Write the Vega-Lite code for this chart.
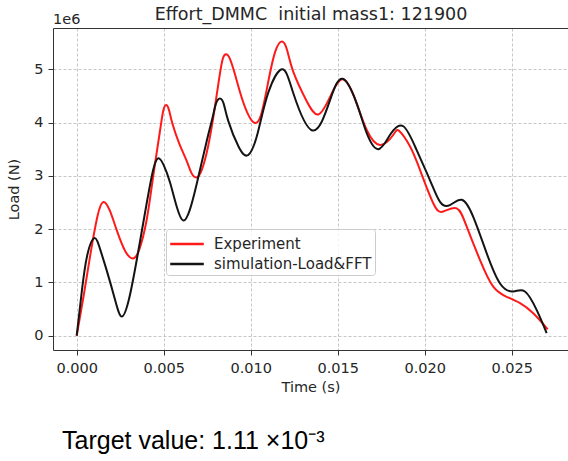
{
  "$schema": "https://vega.github.io/schema/vega-lite/v6.json",
  "width": 515,
  "height": 322,
  "autosize": "none",
  "padding": {"left": 53, "top": 28, "right": 0, "bottom": 111},
  "background": "white",
  "title": {
    "text": "Target value: 1.11 ×10⁻³",
    "orient": "bottom",
    "anchor": "start",
    "frame": "group",
    "dx": 9,
    "offset": 35,
    "font": "Liberation Sans",
    "fontSize": 25,
    "fontWeight": "normal",
    "color": "#000000"
  },
  "config": {
    "view": {"stroke": null},
    "axis": {
      "labelFont": "DejaVu Sans",
      "titleFont": "DejaVu Sans",
      "labelFontSize": 14.5,
      "titleFontSize": 14.5,
      "titleFontWeight": "normal",
      "labelColor": "#262626",
      "titleColor": "#262626",
      "domainColor": "#333333",
      "tickColor": "#333333",
      "tickSize": 5,
      "gridColor": "#b8b8b8",
      "gridDash": [3, 2],
      "gridWidth": 0.8
    },
    "legend": {
      "labelFont": "DejaVu Sans",
      "labelFontSize": 15,
      "labelColor": "#262626"
    }
  },
  "data": {
    "values": [
      {"series": "Experiment", "t": 0, "load": 0},
      {"series": "Experiment", "t": 0.0004, "load": 750000},
      {"series": "Experiment", "t": 0.0008, "load": 1550000},
      {"series": "Experiment", "t": 0.0012, "load": 2250000},
      {"series": "Experiment", "t": 0.00153, "load": 2510000},
      {"series": "Experiment", "t": 0.0019, "load": 2350000},
      {"series": "Experiment", "t": 0.0023, "load": 1980000},
      {"series": "Experiment", "t": 0.0028, "load": 1580000},
      {"series": "Experiment", "t": 0.00325, "load": 1450000},
      {"series": "Experiment", "t": 0.0036, "load": 1620000},
      {"series": "Experiment", "t": 0.00402, "load": 2170000},
      {"series": "Experiment", "t": 0.0044, "load": 3000000},
      {"series": "Experiment", "t": 0.00479, "load": 3850000},
      {"series": "Experiment", "t": 0.00498, "load": 4230000},
      {"series": "Experiment", "t": 0.00514, "load": 4330000},
      {"series": "Experiment", "t": 0.0053, "load": 4240000},
      {"series": "Experiment", "t": 0.0055, "load": 3980000},
      {"series": "Experiment", "t": 0.0059, "load": 3600000},
      {"series": "Experiment", "t": 0.00632, "load": 3280000},
      {"series": "Experiment", "t": 0.0066, "load": 3050000},
      {"series": "Experiment", "t": 0.0069, "load": 2970000},
      {"series": "Experiment", "t": 0.0072, "load": 3120000},
      {"series": "Experiment", "t": 0.00755, "load": 3550000},
      {"series": "Experiment", "t": 0.0079, "load": 4200000},
      {"series": "Experiment", "t": 0.0082, "load": 4850000},
      {"series": "Experiment", "t": 0.0084, "load": 5200000},
      {"series": "Experiment", "t": 0.00858, "load": 5280000},
      {"series": "Experiment", "t": 0.0088, "load": 5200000},
      {"series": "Experiment", "t": 0.0091, "load": 4900000},
      {"series": "Experiment", "t": 0.0095, "load": 4450000},
      {"series": "Experiment", "t": 0.0099, "load": 4120000},
      {"series": "Experiment", "t": 0.01025, "load": 3990000},
      {"series": "Experiment", "t": 0.0106, "load": 4150000},
      {"series": "Experiment", "t": 0.011, "load": 4750000},
      {"series": "Experiment", "t": 0.0114, "load": 5320000},
      {"series": "Experiment", "t": 0.0118, "load": 5520000},
      {"series": "Experiment", "t": 0.0121, "load": 5350000},
      {"series": "Experiment", "t": 0.01245, "load": 4950000},
      {"series": "Experiment", "t": 0.01322, "load": 4400000},
      {"series": "Experiment", "t": 0.01389, "load": 4150000},
      {"series": "Experiment", "t": 0.01456, "load": 4480000},
      {"series": "Experiment", "t": 0.01532, "load": 4810000},
      {"series": "Experiment", "t": 0.01609, "load": 4360000},
      {"series": "Experiment", "t": 0.01667, "load": 3860000},
      {"series": "Experiment", "t": 0.01743, "load": 3580000},
      {"series": "Experiment", "t": 0.0182, "load": 3770000},
      {"series": "Experiment", "t": 0.01854, "load": 3840000},
      {"series": "Experiment", "t": 0.01916, "load": 3550000},
      {"series": "Experiment", "t": 0.01973, "load": 3110000},
      {"series": "Experiment", "t": 0.0205, "load": 2480000},
      {"series": "Experiment", "t": 0.02107, "load": 2330000},
      {"series": "Experiment", "t": 0.02184, "load": 2390000},
      {"series": "Experiment", "t": 0.02241, "load": 2050000},
      {"series": "Experiment", "t": 0.02318, "load": 1420000},
      {"series": "Experiment", "t": 0.02394, "load": 920000},
      {"series": "Experiment", "t": 0.02471, "load": 730000},
      {"series": "Experiment", "t": 0.02548, "load": 610000},
      {"series": "Experiment", "t": 0.02624, "load": 420000},
      {"series": "Experiment", "t": 0.02707, "load": 120000},
      {"series": "simulation-Load&FFT", "t": 0, "load": 0},
      {"series": "simulation-Load&FFT", "t": 0.0003, "load": 850000},
      {"series": "simulation-Load&FFT", "t": 0.0006, "load": 1500000},
      {"series": "simulation-Load&FFT", "t": 0.00101, "load": 1830000},
      {"series": "simulation-Load&FFT", "t": 0.00135, "load": 1620000},
      {"series": "simulation-Load&FFT", "t": 0.00172, "load": 1230000},
      {"series": "simulation-Load&FFT", "t": 0.0022, "load": 680000},
      {"series": "simulation-Load&FFT", "t": 0.00259, "load": 360000},
      {"series": "simulation-Load&FFT", "t": 0.003, "load": 680000},
      {"series": "simulation-Load&FFT", "t": 0.00345, "load": 1420000},
      {"series": "simulation-Load&FFT", "t": 0.00402, "load": 2480000},
      {"series": "simulation-Load&FFT", "t": 0.0044, "load": 3120000},
      {"series": "simulation-Load&FFT", "t": 0.00469, "load": 3330000},
      {"series": "simulation-Load&FFT", "t": 0.005, "load": 3200000},
      {"series": "simulation-Load&FFT", "t": 0.00536, "load": 2880000},
      {"series": "simulation-Load&FFT", "t": 0.00575, "load": 2420000},
      {"series": "simulation-Load&FFT", "t": 0.00613, "load": 2160000},
      {"series": "simulation-Load&FFT", "t": 0.0065, "load": 2360000},
      {"series": "simulation-Load&FFT", "t": 0.0069, "load": 2850000},
      {"series": "simulation-Load&FFT", "t": 0.00747, "load": 3650000},
      {"series": "simulation-Load&FFT", "t": 0.0078, "load": 4080000},
      {"series": "simulation-Load&FFT", "t": 0.008, "load": 4350000},
      {"series": "simulation-Load&FFT", "t": 0.00823, "load": 4450000},
      {"series": "simulation-Load&FFT", "t": 0.00845, "load": 4350000},
      {"series": "simulation-Load&FFT", "t": 0.00871, "load": 4030000},
      {"series": "simulation-Load&FFT", "t": 0.0093, "load": 3550000},
      {"series": "simulation-Load&FFT", "t": 0.00986, "load": 3390000},
      {"series": "simulation-Load&FFT", "t": 0.0104, "load": 3800000},
      {"series": "simulation-Load&FFT", "t": 0.011, "load": 4550000},
      {"series": "simulation-Load&FFT", "t": 0.0118, "load": 5000000},
      {"series": "simulation-Load&FFT", "t": 0.01245, "load": 4550000},
      {"series": "simulation-Load&FFT", "t": 0.01356, "load": 3850000},
      {"series": "simulation-Load&FFT", "t": 0.01456, "load": 4420000},
      {"series": "simulation-Load&FFT", "t": 0.01529, "load": 4820000},
      {"series": "simulation-Load&FFT", "t": 0.01609, "load": 4360000},
      {"series": "simulation-Load&FFT", "t": 0.01667, "load": 3800000},
      {"series": "simulation-Load&FFT", "t": 0.01733, "load": 3500000},
      {"series": "simulation-Load&FFT", "t": 0.01801, "load": 3770000},
      {"series": "simulation-Load&FFT", "t": 0.01877, "load": 3930000},
      {"series": "simulation-Load&FFT", "t": 0.01954, "load": 3480000},
      {"series": "simulation-Load&FFT", "t": 0.0203, "load": 2920000},
      {"series": "simulation-Load&FFT", "t": 0.02088, "load": 2510000},
      {"series": "simulation-Load&FFT", "t": 0.02145, "load": 2450000},
      {"series": "simulation-Load&FFT", "t": 0.02213, "load": 2550000},
      {"series": "simulation-Load&FFT", "t": 0.02279, "load": 2230000},
      {"series": "simulation-Load&FFT", "t": 0.02356, "load": 1550000},
      {"series": "simulation-Load&FFT", "t": 0.02433, "load": 980000},
      {"series": "simulation-Load&FFT", "t": 0.02509, "load": 830000},
      {"series": "simulation-Load&FFT", "t": 0.02576, "load": 830000},
      {"series": "simulation-Load&FFT", "t": 0.02644, "load": 480000},
      {"series": "simulation-Load&FFT", "t": 0.02701, "load": 50000}
    ]
  },
  "layer": [
    {
      "mark": {"type": "line", "interpolate": "natural", "strokeWidth": 2, "clip": true},
      "encoding": {
        "x": {
          "field": "t",
          "type": "quantitative",
          "scale": {"domain": [-0.001362, 0.028236], "nice": false, "zero": false},
          "axis": {
            "orient": "bottom",
            "title": "Time (s)",
            "values": [0, 0.005, 0.01, 0.015, 0.02, 0.025],
            "format": ".3f",
            "labelPadding": 6,
            "titlePadding": 6,
            "grid": true
          }
        },
        "y": {
          "field": "load",
          "type": "quantitative",
          "scale": {"domain": [-268000, 5773000], "nice": false, "zero": false},
          "axis": {
            "title": "Load (N)",
            "values": [0, 1000000, 2000000, 3000000, 4000000, 5000000],
            "labelExpr": "format(datum.value / 1000000, 'd')",
            "labelPadding": 5,
            "titlePadding": 12,
            "grid": true
          }
        },
        "color": {
          "field": "series",
          "type": "nominal",
          "scale": {"domain": ["Experiment", "simulation-Load&FFT"], "range": ["#ff1a1a", "#141414"]},
          "legend": {
            "title": null,
            "orient": "none",
            "legendX": 113,
            "legendY": 201,
            "symbolType": "M-1.6,0H1.6",
            "symbolSize": 441,
            "symbolStrokeWidth": 2.5,
            "symbolOffset": 6,
            "labelOffset": 15,
            "padding": 3,
            "rowPadding": 0,
            "fillColor": "rgba(255,255,255,0.8)",
            "strokeColor": "#cccccc",
            "cornerRadius": 3
          }
        }
      }
    },
    {
      "data": {"values": [{"label": "1e6"}]},
      "mark": {"type": "text", "align": "left", "baseline": "alphabetic", "dy": -4, "font": "DejaVu Sans", "fontSize": 14.5, "color": "#262626"},
      "encoding": {
        "x": {
          "datum": -0.001362,
          "type": "quantitative",
          "axis": {
            "orient": "top",
            "title": "Effort_DMMC\u00a0 initial mass1: 121900",
            "titleFontSize": 17.5,
            "titlePadding": 5,
            "labels": false,
            "ticks": false,
            "grid": false,
            "domain": true
          }
        },
        "y": {"datum": 5773000, "type": "quantitative"},
        "text": {"field": "label"}
      }
    }
  ],
  "resolve": {"axis": {"x": "independent"}}
}
